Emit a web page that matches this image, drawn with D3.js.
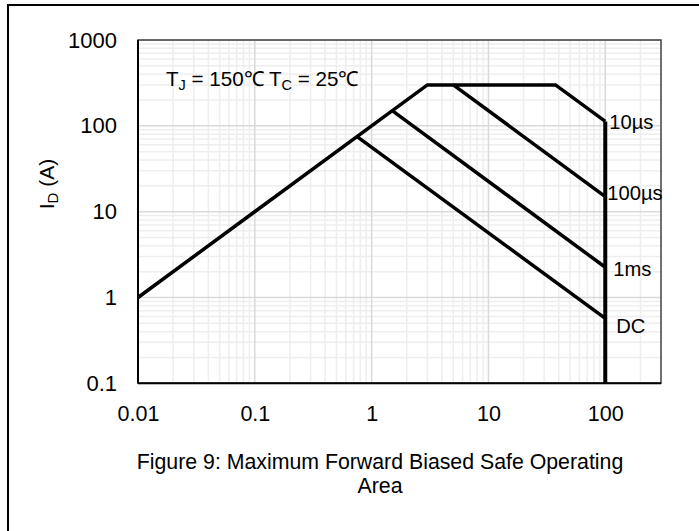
<!DOCTYPE html>
<html><head><meta charset="utf-8">
<script src="https://cdn.jsdelivr.net/npm/d3@7"></script>
<style>body{margin:0;background:#fff}svg{display:block}text{font-family:"Liberation Sans",Arial,sans-serif;fill:#000}</style>
</head><body>
<svg id="c" width="699" height="531"></svg>
<script>
const xTicks = [0.01, 0.1, 1, 10, 100];
const yTicks = [0.1, 1, 10, 100, 1000];
const xTickLabels = ["0.01", "0.1", "1", "10", "100"];
const yTickLabels = ["0.1", "1", "10", "100", "1000"];
// Envelope: Rds(on) limit line then 10µs limit
const envelopeV = [0.01, 3, 37.5, 100];
const envelopeI = [1, 300, 300, 112.5];
const us100V = [5, 100];
const us100I = [300, 15];
const ms1V = [1.5, 100];
const ms1I = [150, 2.25];
const dcV = [0.75, 100];
const dcI = [75, 0.57];
const vLimitV = [100, 100];
const vLimitI = [112.5, 0.1];
const seriesLabels = ["10µs", "100µs", "1ms", "DC"];
const seriesLabelI = [112.5, 15, 2.25, 0.57];

const svg = d3.select("#c");
const L = 138, T = 40, R = 661, B = 383.3;
const x = d3.scaleLog().domain([0.01, 300]).range([L, R]);
const y = d3.scaleLog().domain([0.1, 1000]).range([B, T]);

// outer partial border
svg.append("line").attr("x1", 7).attr("x2", 699).attr("y1", 5).attr("y2", 5).attr("stroke", "#000").attr("stroke-width", 2);
svg.append("line").attr("x1", 8).attr("x2", 8).attr("y1", 4).attr("y2", 531).attr("stroke", "#000").attr("stroke-width", 2);

// grid
const g = svg.append("g");
const minorX = [];
for (let d = 0.01; d < 300; d *= 10) for (let k = 2; k <= 9; k++) { const v = d * k; if (v < 300) minorX.push(v); }
const minorY = [];
for (let d = 0.1; d < 1000; d *= 10) for (let k = 2; k <= 9; k++) minorY.push(d * k);
g.selectAll(".mx").data(minorX).join("line").attr("x1", d => x(d)).attr("x2", d => x(d)).attr("y1", T).attr("y2", B).attr("stroke", "#eeeeee").attr("stroke-width", 1.5);
g.selectAll(".my").data(minorY).join("line").attr("y1", d => y(d)).attr("y2", d => y(d)).attr("x1", L).attr("x2", R).attr("stroke", "#eeeeee").attr("stroke-width", 1.5);
g.selectAll(".Mx").data(xTicks).join("line").attr("x1", d => x(d)).attr("x2", d => x(d)).attr("y1", T).attr("y2", B).attr("stroke", "#d9d9d9").attr("stroke-width", 1.5);
g.selectAll(".My").data(yTicks).join("line").attr("y1", d => y(d)).attr("y2", d => y(d)).attr("x1", L).attr("x2", R).attr("stroke", "#d9d9d9").attr("stroke-width", 1.5);

// plot border
svg.append("rect").attr("x", L).attr("y", T).attr("width", R - L).attr("height", B - T).attr("fill", "none").attr("stroke", "#404040").attr("stroke-width", 1.5);
svg.append("line").attr("x1", L).attr("x2", R).attr("y1", B).attr("y2", B).attr("stroke", "#000").attr("stroke-width", 2);
svg.append("line").attr("x1", L).attr("x2", L).attr("y1", T).attr("y2", B).attr("stroke", "#000").attr("stroke-width", 2);

// axes (labels only)
const xAxis = d3.axisBottom(x).tickValues(xTicks).tickFormat((d, i) => xTickLabels[i]).tickSize(0).tickPadding(22);
const xa = svg.append("g").attr("transform", `translate(0,${B})`).call(xAxis);
xa.select(".domain").remove();
xa.attr("font-size", 21.5).attr("font-family", "Liberation Sans, Arial, sans-serif");
xa.selectAll("text").attr("fill", "#000");
const yAxis = d3.axisLeft(y).tickValues(yTicks).tickFormat((d, i) => yTickLabels[i]).tickSize(0).tickPadding(21);
const ya = svg.append("g").attr("transform", `translate(${L},0)`).call(yAxis);
ya.select(".domain").remove();
ya.attr("font-size", 22).attr("font-family", "Liberation Sans, Arial, sans-serif");
ya.selectAll("text").attr("fill", "#000");

// lines
const line = d3.line().x(d => x(d[0])).y(d => y(d[1]));
function draw(V, I, w) {
  svg.append("path").attr("d", line(V.map((v, i) => [v, I[i]]))).attr("fill", "none").attr("stroke", "#000").attr("stroke-width", w).attr("stroke-linejoin", "miter");
}
draw(envelopeV, envelopeI, 3.5);
draw(us100V, us100I, 3.5);
draw(ms1V, ms1I, 3.5);
draw(dcV, dcI, 3.5);
draw(vLimitV, vLimitI, 4);

// series labels
const labelDx = [4, 2, 8, 11];
const labelDy = [0, -4, 2, 8];
seriesLabels.forEach((s, i) => {
  svg.append("text").attr("x", x(100) + labelDx[i]).attr("y", y(seriesLabelI[i]) + labelDy[i]).attr("dy", "0.35em").attr("font-size", 20.2).text(s);
});

// annotation
const ann = svg.append("text").attr("x", 166).attr("y", 86).attr("font-size", 20.6);
ann.append("tspan").text("T");
ann.append("tspan").attr("font-size", 14.5).attr("dy", 4).text("J");
ann.append("tspan").attr("dy", -4).text(" = 150℃ T");
ann.append("tspan").attr("font-size", 14.5).attr("dy", 4).text("C");
ann.append("tspan").attr("dy", -4).text(" = 25℃");

// y label
const yl = svg.append("text").attr("transform", "translate(54,184) rotate(-90)").attr("text-anchor", "middle").attr("font-size", 21);
yl.append("tspan").text("I");
yl.append("tspan").attr("font-size", 15).attr("dy", 4).text("D");
yl.append("tspan").attr("dy", -4).text(" (A)");

// caption
svg.append("text").attr("x", 380).attr("y", 469).attr("text-anchor", "middle").attr("font-size", 21.3).text("Figure 9: Maximum Forward Biased Safe Operating");
svg.append("text").attr("x", 380).attr("y", 493).attr("text-anchor", "middle").attr("font-size", 21.3).text("Area");
</script>
</body></html>
